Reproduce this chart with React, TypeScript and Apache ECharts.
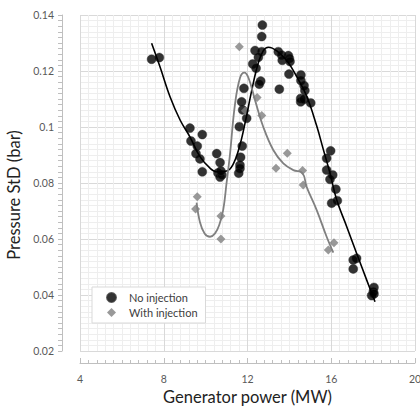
import React, { useEffect, useRef } from "react";
import * as echarts from "echarts";

// No injection (Generator power MW, Pressure StD bar)
const noInjX = [7.42, 7.79, 9.25, 9.30, 9.60, 9.84, 9.54, 9.73, 9.84, 10.53, 10.69, 10.59, 10.69, 10.78, 10.73, 11.61, 11.75, 11.67, 11.64, 11.64, 11.58, 11.96, 11.77, 11.72, 11.83, 12.71, 12.68, 12.36, 12.68, 12.52, 12.25, 12.41, 12.63, 12.56, 13.47, 13.63, 13.66, 13.95, 14.00, 14.03, 13.98, 13.52, 14.55, 14.55, 14.70, 14.74, 14.54, 14.54, 14.70, 15.02, 15.97, 15.78, 15.78, 16.07, 15.94, 16.22, 16.02, 16.29, 17.21, 17.05, 17.05, 18.04, 18.01, 17.93, 18.04];
const noInjY = [0.1242, 0.1248, 0.0996, 0.0950, 0.0932, 0.0973, 0.0905, 0.0886, 0.0840, 0.0905, 0.0873, 0.0836, 0.0821, 0.0829, 0.0843, 0.1001, 0.0932, 0.0892, 0.0864, 0.0852, 0.0835, 0.1031, 0.1061, 0.1090, 0.1138, 0.1364, 0.1323, 0.1273, 0.1269, 0.1249, 0.1225, 0.1210, 0.1164, 0.1153, 0.1269, 0.1257, 0.1238, 0.1255, 0.1245, 0.1234, 0.1189, 0.1135, 0.1186, 0.1166, 0.1148, 0.1130, 0.1102, 0.1090, 0.1099, 0.1086, 0.0915, 0.0888, 0.0846, 0.0829, 0.0813, 0.0778, 0.0728, 0.0737, 0.0531, 0.0525, 0.0493, 0.0427, 0.0412, 0.0398, 0.0404];

// With injection
const injX = [9.52, 9.60, 10.73, 10.73, 11.61, 11.90, 12.46, 12.68, 13.36, 13.90, 14.63, 14.66, 15.86, 16.13];
const injY = [0.0707, 0.0751, 0.0682, 0.0600, 0.1287, 0.1058, 0.1105, 0.1041, 0.0853, 0.0906, 0.0845, 0.0793, 0.0561, 0.0587];

// Trend curves
const noInjTrendX = [7.42, 7.82, 8.30, 8.78, 9.25, 9.73, 10.21, 10.53, 11.0, 11.3, 11.6, 11.9, 12.2, 12.5, 12.75, 13.0, 13.4, 13.9, 14.35, 14.83, 15.3, 15.62, 15.94, 16.26, 16.74, 17.21, 17.69, 18.09];
const noInjTrendY = [0.1299, 0.1215, 0.1108, 0.1025, 0.0965, 0.0894, 0.0853, 0.0840, 0.0843, 0.0865, 0.0925, 0.1020, 0.1130, 0.1225, 0.1272, 0.1285, 0.1272, 0.1235, 0.1180, 0.1110, 0.1005, 0.0920, 0.0835, 0.0740, 0.0644, 0.0549, 0.0454, 0.0376];
const injTrendX = [9.57, 9.73, 9.95, 10.21, 10.45, 10.65, 10.84, 11.0, 11.16, 11.4, 11.64, 11.85, 12.05, 12.36, 12.75, 13.23, 13.71, 14.19, 14.63, 14.82, 15.30, 15.78, 16.10];
const injTrendY = [0.0730, 0.0660, 0.0620, 0.0608, 0.0620, 0.0650, 0.0704, 0.0800, 0.0900, 0.1080, 0.1175, 0.1194, 0.1175, 0.1096, 0.1001, 0.0918, 0.0870, 0.0846, 0.0835, 0.0787, 0.0704, 0.0608, 0.0551];

const seriesNames = ["No injection", "With injection"];
const xTicks = { min: 4, max: 20, interval: 4 };
const yTicks = { min: 0.02, max: 0.14, interval: 0.02 };

const zip = (xs: number[], ys: number[]) => xs.map((x, i) => [x, ys[i]]);

const FONT = "Lato, 'Liberation Sans', sans-serif";

export default function App() {
  const ref = useRef<HTMLDivElement>(null);
  useEffect(() => {
    if (!ref.current) return;
    const chart = echarts.init(ref.current, null, { renderer: "svg" });
    chart.setOption({
      animation: false,
      backgroundColor: "#ffffff",
      textStyle: { fontFamily: FONT },
      grid: { left: 80, top: 15, right: 5, bottom: 55, containLabel: false, outerBoundsMode: "none" },
      legend: {
        orient: "vertical",
        left: 92,
        top: 287,
        padding: [5, 8, 5, 14],
        itemGap: 4,
        itemWidth: 9,
        itemHeight: 9,
        backgroundColor: "#ffffff",
        borderColor: "#d9d9d9",
        borderWidth: 1,
        textStyle: { fontFamily: FONT, fontSize: 11, color: "#404040", padding: [0, 0, 0, 8] },
        data: seriesNames,
      },
      xAxis: {
        type: "value",
        min: xTicks.min,
        max: xTicks.max,
        interval: xTicks.interval,
        offset: 12,
        name: "Generator power (MW)",
        nameLocation: "middle",
        nameGap: 21,
        nameTextStyle: { fontFamily: FONT, fontSize: 16.5, color: "#222" },
        axisLine: { show: true, lineStyle: { color: "#bfbfbf", width: 1 } },
        axisTick: { show: true, inside: true, length: 5, lineStyle: { color: "#bfbfbf" } },
        minorTick: { show: true, splitNumber: 10, length: 3, lineStyle: { color: "#bfbfbf" } },
        axisLabel: { fontFamily: FONT, fontSize: 10.5, color: "#595959", margin: 10 },
        splitLine: { show: true, lineStyle: { color: "#d9d9d9", width: 1 } },
        minorSplitLine: { show: true, lineStyle: { color: "#eeeeee", width: 1 } },
      },
      yAxis: {
        type: "value",
        min: yTicks.min,
        max: yTicks.max,
        interval: yTicks.interval,
        offset: 18,
        name: "Pressure StD (bar)",
        nameLocation: "middle",
        nameGap: 34,
        nameTextStyle: { fontFamily: FONT, fontSize: 16.5, color: "#222", padding: [0, 24, 0, 0] },
        axisLine: { show: true, lineStyle: { color: "#bfbfbf", width: 1 } },
        axisTick: { show: true, inside: false, length: 4, lineStyle: { color: "#bfbfbf" } },
        minorTick: { show: true, splitNumber: 10, length: 4, lineStyle: { color: "#bfbfbf" } },
        axisLabel: {
          fontFamily: FONT,
          fontSize: 10.5,
          color: "#595959",
          margin: 8,
          formatter: (v: number) => String(parseFloat(v.toFixed(3))),
        },
        splitLine: { show: true, lineStyle: { color: "#d9d9d9", width: 1 } },
        minorSplitLine: { show: true, lineStyle: { color: "#eeeeee", width: 1 } },
      },
      series: [
        {
          name: seriesNames[0],
          type: "scatter",
          symbol: "circle",
          symbolSize: 9,
          itemStyle: { color: "#000000", borderColor: "#333333", borderWidth: 0.5 },
          data: zip(noInjX, noInjY),
          z: 2,
        },
        {
          name: seriesNames[1],
          type: "scatter",
          symbol: "diamond",
          symbolSize: 9,
          itemStyle: { color: "#808080" },
          data: zip(injX, injY),
          z: 2,
        },
        {
          name: "trend1",
          type: "line",
          smooth: 0.4,
          showSymbol: false,
          symbol: "none",
          lineStyle: { color: "#000000", width: 1.6 },
          data: zip(noInjTrendX, noInjTrendY),
          z: 3,
          silent: true,
        },
        {
          name: "trend2",
          type: "line",
          smooth: 0.4,
          showSymbol: false,
          symbol: "none",
          lineStyle: { color: "#808080", width: 1.8 },
          data: zip(injTrendX, injTrendY),
          z: 3,
          silent: true,
        },
      ],
    });
    return () => chart.dispose();
  }, []);
  return (
    <div
      ref={ref}
      style={{ position: "absolute", left: 0, top: 0, width: 420, height: 406 }}
    />
  );
}
